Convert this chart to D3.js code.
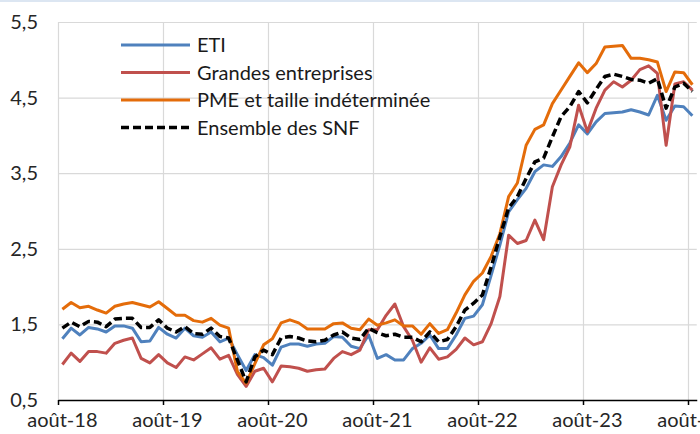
<!DOCTYPE html>
<html>
<head>
<meta charset="utf-8">
<script src="https://cdn.jsdelivr.net/npm/d3@7"></script>
<style>
  body { margin: 0; background: #fff; }
  svg { display: block; font-family: Lato, "Open Sans", sans-serif; }
</style>
</head>
<body>
<div id="chart"></div>
<script>
// monthly values, août-18 .. août-24
const eti = [1.31, 1.45, 1.36, 1.46, 1.44, 1.40, 1.48, 1.48, 1.45, 1.27, 1.28, 1.46, 1.37, 1.32, 1.45, 1.35,
  1.33, 1.40, 1.27, 1.32, 1.10, 0.89, 1.10, 1.06, 0.96, 1.20, 1.24, 1.24, 1.21, 1.24, 1.25, 1.34,
  1.33, 1.21, 1.18, 1.36, 1.05, 1.10, 1.03, 1.03, 1.18, 1.25, 1.36, 1.18, 1.18, 1.36, 1.58, 1.61,
  1.76, 2.15, 2.55, 2.99, 3.15, 3.30, 3.52, 3.61, 3.59, 3.72, 3.90, 4.14, 4.02, 4.18, 4.29, 4.30,
  4.31, 4.34, 4.31, 4.27, 4.53, 4.20, 4.39, 4.38, 4.26];
const grandes = [0.97, 1.12, 1.01, 1.14, 1.14, 1.12, 1.25, 1.29, 1.32, 1.05, 0.99, 1.10, 0.99, 0.93, 1.07, 1.03,
  1.11, 1.19, 1.04, 1.09, 0.84, 0.68, 0.88, 0.92, 0.74, 0.95, 0.94, 0.92, 0.88, 0.90, 0.91, 1.05,
  1.14, 1.10, 1.16, 1.43, 1.43, 1.62, 1.77, 1.47, 1.29, 1.00, 1.19, 1.04, 1.07, 1.17, 1.32, 1.23,
  1.27, 1.51, 1.87, 2.68, 2.57, 2.61, 2.88, 2.62, 3.32, 3.61, 3.85, 4.40, 4.05, 4.36, 4.60, 4.71,
  4.64, 4.73, 4.87, 4.92, 4.82, 3.87, 4.68, 4.71, 4.60];
const pme = [1.70, 1.79, 1.72, 1.74, 1.69, 1.65, 1.74, 1.77, 1.79, 1.76, 1.73, 1.80, 1.71, 1.62, 1.62, 1.55,
  1.53, 1.58, 1.49, 1.45, 0.88, 0.72, 0.98, 1.23, 1.31, 1.52, 1.56, 1.52, 1.44, 1.44, 1.44, 1.51,
  1.52, 1.45, 1.43, 1.57, 1.49, 1.52, 1.56, 1.48, 1.48, 1.37, 1.51, 1.38, 1.43, 1.65, 1.89, 2.07,
  2.18, 2.40, 2.70, 3.19, 3.37, 3.87, 4.08, 4.14, 4.42, 4.60, 4.78, 4.96, 4.83, 4.95, 5.17, 5.18,
  5.19, 5.02, 5.02, 5.00, 4.97, 4.58, 4.84, 4.83, 4.67];
const snf = [1.45, 1.53, 1.47, 1.54, 1.53, 1.47, 1.57, 1.58, 1.58, 1.46, 1.46, 1.56, 1.45, 1.40, 1.47, 1.38,
  1.37, 1.45, 1.34, 1.32, 1.03, 0.74, 1.07, 1.16, 1.10, 1.32, 1.34, 1.32, 1.28, 1.27, 1.29, 1.36,
  1.40, 1.32, 1.30, 1.45, 1.39, 1.35, 1.37, 1.33, 1.33, 1.27, 1.40, 1.27, 1.30, 1.47, 1.69, 1.78,
  1.89, 2.26, 2.66, 3.04, 3.19, 3.43, 3.65, 3.70, 3.98, 4.25, 4.38, 4.58, 4.43, 4.61, 4.78, 4.81,
  4.78, 4.74, 4.73, 4.69, 4.75, 4.36, 4.64, 4.69, 4.58];

const seriesNames = ["ETI", "Grandes entreprises", "PME et taille indéterminée", "Ensemble des SNF"];
const xLabels = ["août-18", "août-19", "août-20", "août-21", "août-22", "août-23", "août-24"];
const yTicks = [0.5, 1.5, 2.5, 3.5, 4.5, 5.5];

const series = [
  { name: seriesNames[0], values: eti, color: "#4F81BD", dash: null },
  { name: seriesNames[1], values: grandes, color: "#C0504D", dash: null },
  { name: seriesNames[2], values: pme, color: "#E46C0A", dash: null },
  { name: seriesNames[3], values: snf, color: "#000000", dash: "8,4" }
];

const W = 700, H = 434;
const margin = { top: 22, right: 3.25, bottom: 34, left: 58 };
const width = W - margin.left - margin.right;
const height = H - margin.top - margin.bottom;
const n = eti.length;

const svg = d3.select("#chart").append("svg")
  .attr("width", W)
  .attr("height", H);

// thin band left over from the page header
svg.append("rect")
  .attr("x", 0).attr("y", 0)
  .attr("width", W).attr("height", 2)
  .attr("fill", "#DCE6F2");

const g = svg.append("g")
  .attr("transform", `translate(${margin.left},${margin.top})`);

const x = d3.scaleLinear().domain([0, n]).range([0, width]);
const y = d3.scaleLinear().domain([0.5, 5.5]).range([height, 0]);

const tickIdx = xLabels.map((d, i) => i * 12);

// gridlines
g.append("g")
  .call(d3.axisLeft(y).tickValues(yTicks).tickSize(-width).tickFormat(""))
  .call(s => s.select(".domain").remove())
  .selectAll("line").attr("stroke", "#D9D9D9").attr("stroke-width", 1.2);

g.append("g")
  .call(d3.axisBottom(x).tickValues(tickIdx).tickSize(height).tickFormat(""))
  .call(s => s.select(".domain").remove())
  .selectAll("line").attr("stroke", "#D9D9D9").attr("stroke-width", 1.2);

// y labels
g.append("g")
  .call(d3.axisLeft(y).tickValues(yTicks).tickSize(0).tickPadding(20)
    .tickFormat(d => d3.format(".1f")(d).replace(".", ",")))
  .call(s => s.select(".domain").remove())
  .selectAll("text")
  .attr("font-size", "20px")
  .attr("font-family", "Lato, sans-serif")
  .attr("fill", "#262626");

// x axis line + ticks
const xAxis = g.append("g")
  .attr("transform", `translate(0,${height})`)
  .call(d3.axisBottom(x).tickValues(tickIdx).tickSize(5).tickFormat("").tickSizeOuter(0));
xAxis.select(".domain").attr("stroke", "#000").attr("stroke-width", 1.5);
xAxis.selectAll(".tick line").attr("stroke", "#000").attr("stroke-width", 1.5);

// x labels centred on their month
g.append("g").selectAll("text")
  .data(xLabels)
  .join("text")
  .attr("x", (d, i) => x(i * 12 + 0.5))
  .attr("y", height + 27)
  .attr("text-anchor", "middle")
  .attr("font-size", "20px")
  .attr("fill", "#262626")
  .text(d => d);

const line = d3.line()
  .x((d, i) => x(i + 0.5))
  .y(d => y(d));

series.forEach(s => {
  g.append("path")
    .datum(s.values)
    .attr("fill", "none")
    .attr("stroke", s.color)
    .attr("stroke-width", s.dash ? 3.5 : 3)
    .attr("stroke-dasharray", s.dash)
    .attr("stroke-linejoin", "round")
    .attr("d", line);
});

// legend
const legend = svg.append("g")
  .attr("transform", "translate(121,45)");

series.forEach((s, i) => {
  const row = legend.append("g").attr("transform", `translate(0,${i * 27.5})`);
  row.append("line")
    .attr("x1", 0).attr("x2", 69)
    .attr("stroke", s.color)
    .attr("stroke-width", s.dash ? 3.5 : 3)
    .attr("stroke-dasharray", s.dash);
  row.append("text")
    .attr("x", 76)
    .attr("dy", "0.35em")
    .attr("font-size", "20px")
    .attr("fill", "#1a1a1a")
    .text(s.name);
});
</script>
</body>
</html>
